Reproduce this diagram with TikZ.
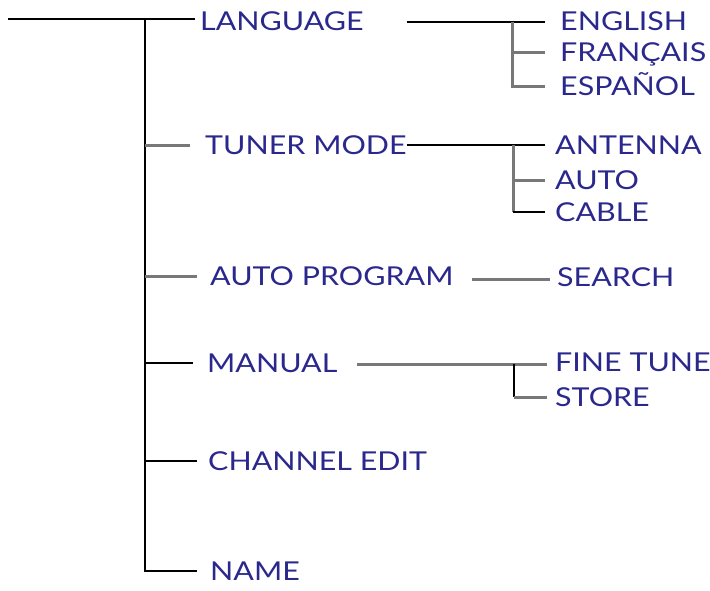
\documentclass[tikz,border=0pt]{standalone}
\usepackage{fontspec}
\setmainfont[FakeStretch=1.17]{Lato}
\definecolor{txt}{RGB}{42,40,140}
\definecolor{gr}{RGB}{120,120,120}
\begin{document}
\begin{tikzpicture}[x=1pt,y=-1pt,
  lbl/.style={anchor=west,inner sep=0pt,text height=19pt,text depth=0pt,text=txt,font=\fontsize{26}{26}\selectfont},
  thin/.style={draw=black,line width=1.6pt},
  thick/.style={draw=gr,line width=3pt}]
\useasboundingbox (0,0) rectangle (710,590);
% level 1
\node[lbl] (lang) at (200,21) {LANGUAGE};
\node[lbl] (tuner) at (205,145) {TUNER MODE};
\node[lbl] (autoprog) at (210,276) {AUTO PROGRAM};
\node[lbl] (manual) at (207,363) {MANUAL};
\node[lbl] (chedit) at (208,461) {CHANNEL EDIT};
\node[lbl] (name) at (210,571) {NAME};
% level 2
\node[lbl] (english) at (560,21) {ENGLISH};
\node[lbl] (francais) at (560,52) {FRANÇAIS};
\node[lbl] (espanol) at (560,86) {ESPAÑOL};
\node[lbl] (antenna) at (555,145) {ANTENNA};
\node[lbl] (auto) at (555,180) {AUTO};
\node[lbl] (cable) at (555,212) {CABLE};
\node[lbl] (search) at (557,277) {SEARCH};
\node[lbl] (finetune) at (555,362) {FINE TUNE};
\node[lbl] (store) at (555,397) {STORE};
% coordinates
\coordinate (start) at (8,19);
\coordinate (trunk) at (145,19);
\coordinate (lv) at (512,22);
\coordinate (tv) at (513,145);
\coordinate (mv) at (514,364);
\coordinate (lstart) at (407,22);
\coordinate (astart) at (472,279);
\coordinate (mstart) at (357,364);
% root trunk
\draw[thin] (start) -- ([xshift=-5pt]lang.west |- trunk);
\draw[thin] (trunk) -- (trunk |- name.west) -- ([xshift=-13pt]name.west);
\draw[thick] (trunk |- tuner.west) -- ([xshift=-15pt]tuner.west);
\draw[thick] (trunk |- autoprog.west) -- ([xshift=-13pt]autoprog.west);
\draw[thin] (trunk |- manual.west) -- ([xshift=-14pt]manual.west);
\draw[thin] (trunk |- chedit.west) -- ([xshift=-11pt]chedit.west);
% language
\draw[thin] (lstart) -- ([xshift=-15pt]english.west |- lv);
\draw[thick] (lv) -- (lv |- espanol.west) -- ([xshift=-15pt]espanol.west);
\draw[thick] (lv |- francais.west) -- ([xshift=-15pt]francais.west);
% tuner
\draw[thin] (tuner.east) -- ([xshift=-10pt]antenna.west);
\draw[thick] (tv) -- (tv |- cable.west);
\draw[thick] (tv |- auto.west) -- ([xshift=-10pt]auto.west);
\draw[thin] (tv |- cable.west) -- ([xshift=-10pt]cable.west);
% auto program
\draw[thick] (astart) -- ([xshift=-7pt]search.west |- astart);
% manual
\draw[thick] (mstart) -- ([xshift=-8pt]finetune.west |- mstart);
\draw[thin] (mv) -- (mv |- store.west);
\draw[thick] (mv |- store.west) -- ([xshift=-8pt]store.west);
\end{tikzpicture}
\end{document}
